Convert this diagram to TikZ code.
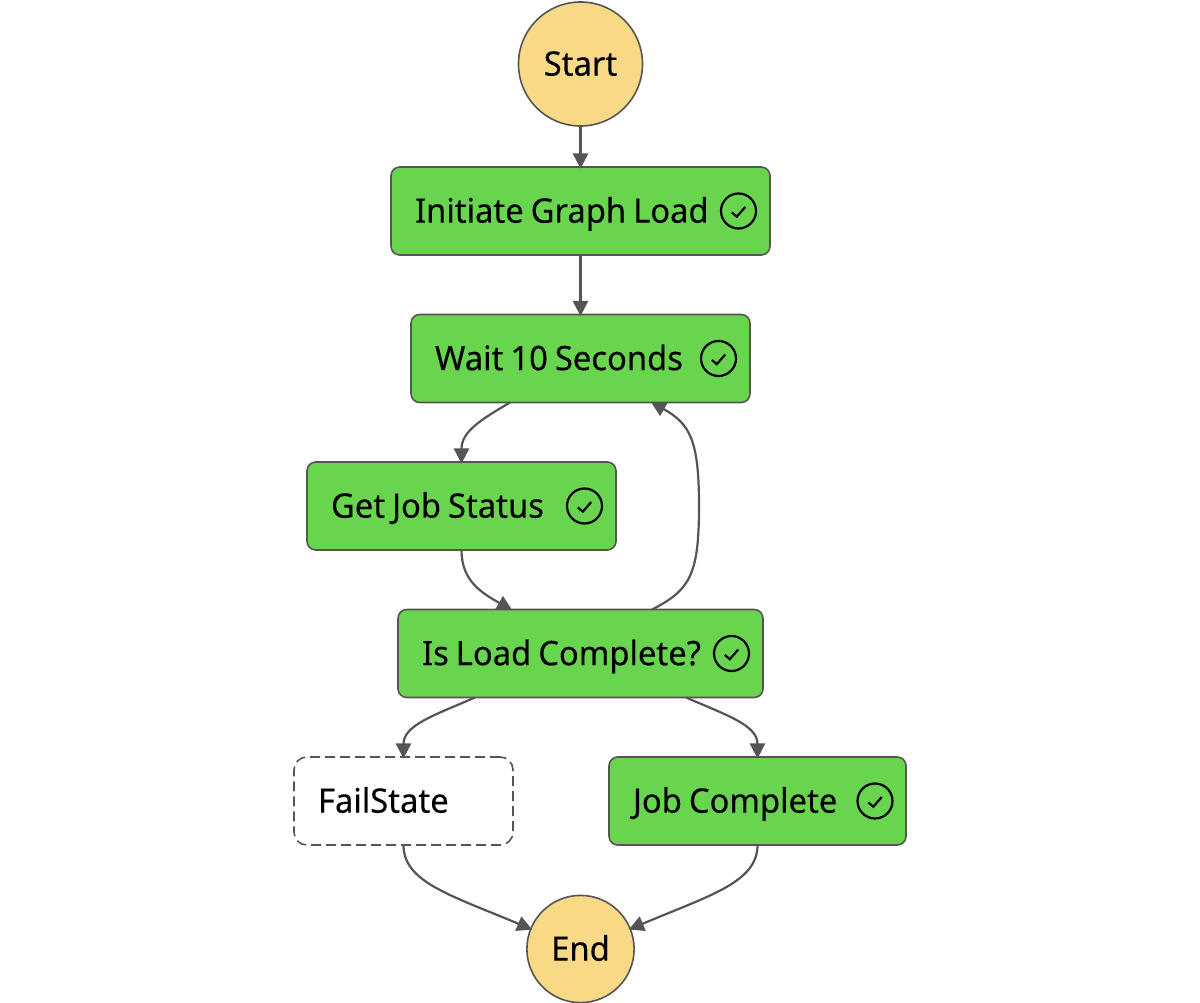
\documentclass[tikz,border=0pt]{standalone}
\usepackage{fontspec}
\setmainfont[FakeStretch=0.97,FakeBold=0.25]{Noto Sans}
\usetikzlibrary{arrows.meta}
\definecolor{stategreen}{HTML}{69D44E}
\definecolor{stateyellow}{HTML}{F8D986}
\definecolor{linegray}{HTML}{555555}
\newcommand{\tightspace}{\spaceskip 5pt\relax}
\tikzset{
  labeltext/.style={font=\fontsize{24}{28}\selectfont,execute at begin node=\tightspace,text=black,text height=19pt,text depth=2.4pt},
  circlestate/.style={circle,draw=linegray,line width=0.04cm,fill=stateyellow,inner sep=0pt,outer sep=0pt,labeltext},
  statebox/.style={rectangle,rounded corners=0.22cm,draw=linegray,line width=0.04cm,fill=stategreen,
    labeltext,minimum height=2.2cm,inner xsep=0.6cm,inner ysep=0pt,outer sep=0pt,align=left,
    text width=#1*0.025cm-1.2cm},
  failbox/.style={statebox=#1,fill=white,dash pattern=on 0.25cm off 0.125cm,rounded corners=0.32cm},
  flow/.style={draw=linegray,line width=0.055cm,shorten >=-0.04cm,-{Triangle[length=0.38cm,width=0.38cm]}},
  tickmark/.pic={
    \draw[black,line width=0.055cm] (0,0) circle (17.5);
    \draw[black,line width=0.055cm] (-6.7,1.4) -- (-1.7,5.7) -- (6.7,-4);
  }
}
\begin{document}
\begin{tikzpicture}[x=0.025cm,y=-0.025cm]
\useasboundingbox (0,0) rectangle (1200,1003);
\node[circlestate,minimum size=3.1cm] (start) at (580.5,64) {Start};
\node[statebox=379] (initiate) at (580.5,211) {Initiate Graph Load};
\node[statebox=339] (wait) at (580.5,358.5) {Wait 10 Seconds};
\node[statebox=309] (status) at (461.5,506) {Get Job Status};
\node[statebox=365] (complete) at (580.5,653.5) {Is Load Complete?};
\node[failbox=219] (fail) at (403.5,801) {FailState};
\node[statebox=297] (job) at (757.5,801) {Job Complete};
\node[circlestate,minimum size=2.68cm] (end) at (580.5,949) {End};
\pic at (738.5,211) {tickmark};
\pic at (718.5,358.5) {tickmark};
\pic at (584.5,506) {tickmark};
\pic at (731.5,653.5) {tickmark};
\pic at (875,801) {tickmark};
\draw[flow] (start) -- (initiate);
\draw[flow] (initiate) -- (wait);
\draw[flow] ([xshift=-1.76cm]wait.south) .. controls (480,420) and (461.5,432) .. (status.north);
\draw[flow] (status.south) .. controls (461.5,580) and (480,592) .. ([xshift=-1.74cm]complete.north);
\draw[flow] ([xshift=1.79cm]complete.north) .. controls (690,590) and (699,575) .. (699,506) .. controls (699,440) and (690,424) .. ([xshift=1.79cm]wait.south);
\draw[flow] ([xshift=-2.64cm]complete.south) .. controls (435,715) and (403.5,725) .. (fail.north);
\draw[flow] ([xshift=2.64cm]complete.south) .. controls (726,715) and (757.5,725) .. (job.north);
\draw[flow] (fail.south) .. controls (403.5,882) and (450,895) .. (end.158);
\draw[flow] (job.south) .. controls (757.5,882) and (711,895) .. (end.22);
\end{tikzpicture}
\end{document}
